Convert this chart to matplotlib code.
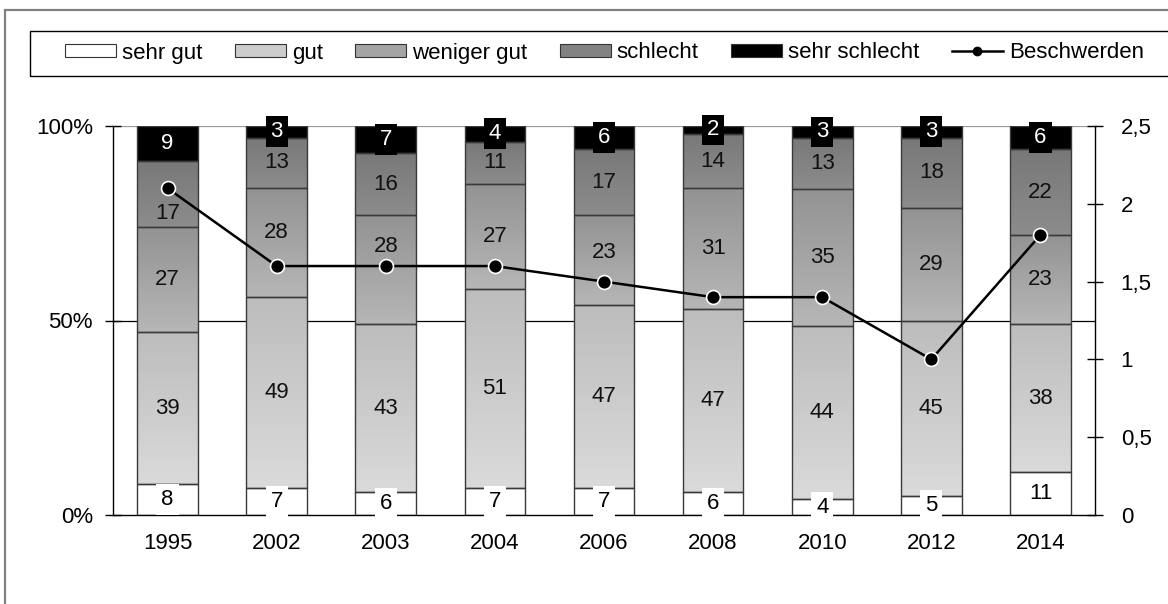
import matplotlib
matplotlib.use("Agg")
import matplotlib.pyplot as plt
import numpy as np
from matplotlib.colors import LinearSegmentedColormap
from matplotlib.lines import Line2D
from matplotlib.patches import Patch, Rectangle
from matplotlib.ticker import FuncFormatter

plt.rcParams["font.family"] = ["Liberation Sans", "DejaVu Sans"]
FS = 16

years = ["1995", "2002", "2003", "2004", "2006", "2008", "2010", "2012", "2014"]
sehr_gut = [8, 7, 6, 7, 7, 6, 4, 5, 11]
gut = [39, 49, 43, 51, 47, 47, 44, 45, 38]
weniger_gut = [27, 28, 28, 27, 23, 31, 35, 29, 23]
schlecht = [17, 13, 16, 11, 17, 14, 13, 18, 22]
sehr_schlecht = [9, 3, 7, 4, 6, 2, 3, 3, 6]
beschwerden = [2.1, 1.6, 1.6, 1.6, 1.5, 1.4, 1.4, 1.0, 1.8]

# (name, values, top colour, bottom colour, legend colour)
layers = [
    ("sehr gut", sehr_gut, "#ffffff", "#ffffff", "#ffffff"),
    ("gut", gut, "#bdbdbd", "#dadada", "#cccccc"),
    ("weniger gut", weniger_gut, "#939393", "#b6b6b6", "#a4a4a4"),
    ("schlecht", schlecht, "#787878", "#8c8c8c", "#828282"),
    ("sehr schlecht", sehr_schlecht, "#000000", "#000000", "#000000"),
]
# labels nudged off the line markers in the original (layer, column): shift in %-points
LABEL_SHIFT = {(3, 0): -4.9, (2, 1): 2.5, (2, 2): 5.9, (2, 4): 1.9}

fig = plt.figure(figsize=(11.68, 6.04), dpi=100)
ax = fig.add_axes([113 / 1168, 89 / 604, 982 / 1168, 389 / 604])
ax2 = ax.twinx()

x = np.arange(len(years))
raw = np.array([l[1] for l in layers], dtype=float)
pct = raw / raw.sum(axis=0) * 100   # Excel 100% stacked normalises each column
bottom = np.zeros(len(years))
grad = np.linspace(0, 1, 64).reshape(-1, 1)

for k, (name, vals, top_c, bot_c, _) in enumerate(layers):
    bars = ax.bar(x, pct[k], 0.555, bottom=bottom, facecolor="none",
                  edgecolor="#3a3a3a", lw=1.0, zorder=3)
    cmap = LinearSegmentedColormap.from_list(name, [bot_c, top_c])
    for b in bars:
        x0, y0, w, h = b.get_x(), b.get_y(), b.get_width(), b.get_height()
        ax.imshow(grad, cmap=cmap, extent=(x0, x0 + w, y0, y0 + h),
                  origin="lower", aspect="auto", zorder=2, interpolation="bilinear")
    for i, v in enumerate(vals):
        yc = bottom[i] + pct[k][i] / 2 + LABEL_SHIFT.get((k, i), 0)
        if name == "sehr schlecht":
            ax.text(x[i], yc, str(v), ha="center", va="center", fontsize=FS, color="white",
                    zorder=5, bbox=dict(boxstyle="square,pad=0.22", fc="black", ec="none"))
        elif name == "sehr gut":
            ax.text(x[i], yc, str(v), ha="center", va="center", fontsize=FS, color="black",
                    zorder=5, bbox=dict(boxstyle="square,pad=0.22", fc="white", ec="none"))
        else:
            ax.text(x[i], yc, str(v), ha="center", va="center", fontsize=FS,
                    color="#111111", zorder=5)
    bottom += pct[k]

ax.axhline(50, color="black", lw=0.9, zorder=1)
ax.axhline(100, color="#9a9a9a", lw=1.6, zorder=1)
ax.set_xlim(-0.5, len(years) - 0.5)
ax.set_ylim(0, 100)
ax.set_yticks([0, 50, 100])
ax.set_yticklabels(["0%", "50%", "100%"])
ax.set_xticks(x)
ax.set_xticklabels(years)
ax.tick_params(axis="y", direction="inout", length=11, width=1, pad=9, labelsize=FS)
ax.tick_params(axis="x", length=0, pad=13, labelsize=FS)
for s in ["top", "right"]:
    ax.spines[s].set_visible(False)
ax.spines["left"].set_linewidth(1)
ax.spines["bottom"].set_linewidth(1)

ax2.plot(x, beschwerden, color="black", lw=1.8, marker="o", ms=10,
         mfc="black", mec="white", mew=1.2, zorder=6)
ax2.set_ylim(0, 2.5)
ax2.set_yticks([0, 0.5, 1, 1.5, 2, 2.5])
ax2.yaxis.set_major_formatter(FuncFormatter(lambda v, p: f"{v:g}".replace(".", ",")))
ax2.tick_params(axis="y", direction="inout", length=11, width=1, pad=13, labelsize=FS)
for s in ["top", "left", "bottom"]:
    ax2.spines[s].set_visible(False)
ax2.spines["right"].set_linewidth(1)

# legend with its own frame box
handles = [Patch(facecolor=leg_c, edgecolor="#333333", lw=0.8, label=name)
           for name, _, _, _, leg_c in layers]
handles.append(Line2D([], [], color="black", lw=1.8, marker="o", ms=6, label="Beschwerden"))
fig.legend(handles=handles, loc="center left", bbox_to_anchor=(65 / 1168, 551 / 604),
           ncol=6, frameon=False, fontsize=FS, handlelength=2.3, handleheight=0.5,
           handletextpad=0.27, columnspacing=1.45, borderpad=0, borderaxespad=0)
fig.add_artist(Rectangle((30 / 1168, 528 / 604), 1.1, 45 / 604, transform=fig.transFigure,
                         fill=False, edgecolor="black", lw=1.0, clip_on=False))
fig.add_artist(Rectangle((5 / 1168, -0.1), 1.2, 594 / 604 + 0.1, transform=fig.transFigure,
                         fill=False, edgecolor="#808080", lw=1.6, clip_on=False))

fig.savefig("out.png", dpi=100)
